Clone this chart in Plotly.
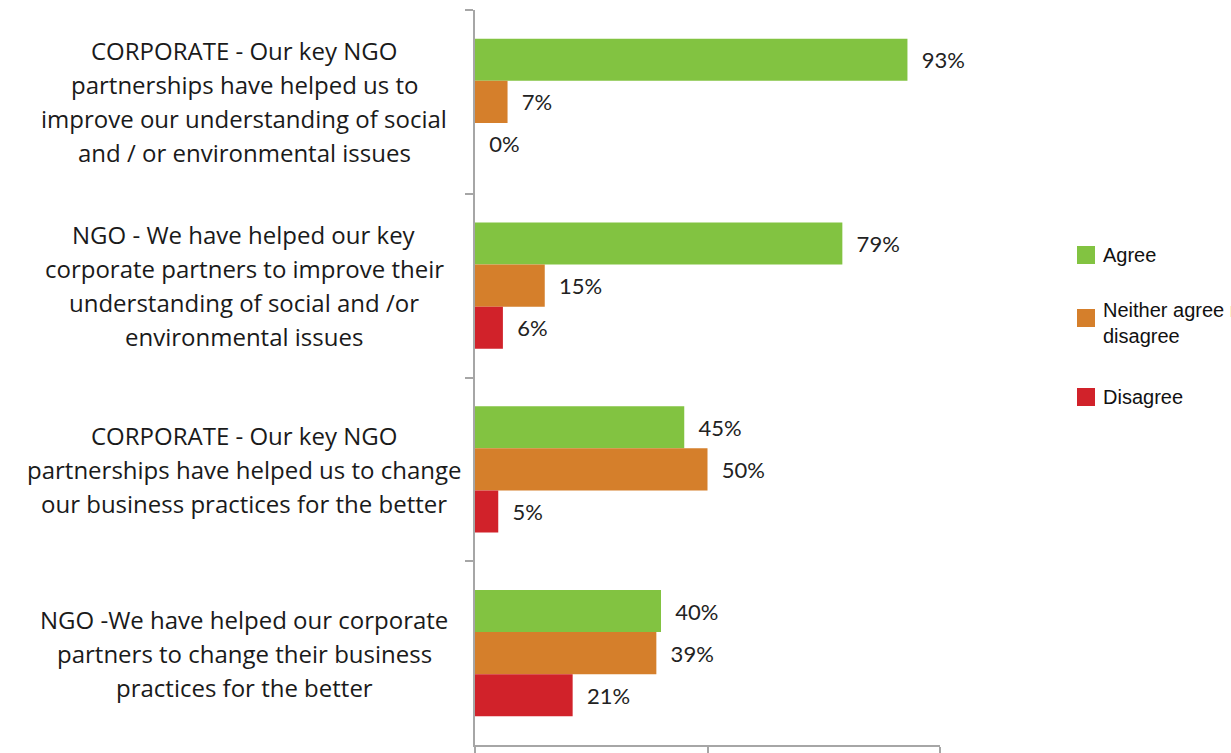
import plotly.graph_objects as go

# Survey statements, one entry per category, as the lines they wrap into
categories = [
    ["CORPORATE - Our key NGO", "partnerships have helped us to",
     "improve our understanding of social", "and / or environmental issues"],
    ["NGO - We have helped our key", "corporate partners to improve their",
     "understanding of social and /or", "environmental issues"],
    ["CORPORATE - Our key NGO", "partnerships have helped us to change",
     "our business practices for the better"],
    ["NGO -We have helped our corporate", "partners to change their business",
     "practices for the better"],
]
series_names = ["Agree", "Neither agree nor<br>disagree", "Disagree"]
agree = [93, 79, 45, 40]
neither = [7, 15, 50, 39]
disagree = [0, 6, 5, 21]
colors = ["#82c341", "#d57f2b", "#d1222a"]

W, H = 1231, 753
L, R, T, B = 475, 291, 10, 8
plot_w = W - L - R
plot_h = H - T - B
LINE_STEP = 34  # pixel spacing between wrapped label lines


def px_to_paper_x(px):
    return (px - L) / plot_w


def px_to_paper_y(py):
    return (H - B - py) / plot_h


keys = [f"c{i}" for i in range(len(categories))]
fig = go.Figure()
for name, vals, col in zip(series_names, [agree, neither, disagree], colors):
    fig.add_trace(go.Bar(
        y=keys, x=vals, orientation="h", name=name,
        marker=dict(color=col, line=dict(width=0)),
        text=[f"\u00a0\u00a0{v}%" for v in vals],
        textposition="outside", cliponaxis=False, constraintext="none",
        textfont=dict(family="Lato", size=22, color="#222222"),
        showlegend=False,
    ))

# Category labels: centred lines to the left of the axis
for k, lines in zip(keys, categories):
    mid = (len(lines) - 1) / 2
    for i, line in enumerate(lines):
        fig.add_annotation(
            x=px_to_paper_x(244), xref="paper", y=k, yref="y",
            xanchor="center", yanchor="middle", align="center",
            text=line, showarrow=False, yshift=(mid - i) * LINE_STEP,
            font=dict(family="Open Sans", size=24, color="#1a1a1a"),
        )

# Legend drawn as swatches with labels on the right
legend_rows = [(255, 255), (318, 323), (397, 397)]
for (sq_y, txt_y), name, col in zip(legend_rows, series_names, colors):
    fig.add_shape(
        type="rect", xref="paper", yref="paper",
        x0=px_to_paper_x(1077), x1=px_to_paper_x(1095),
        y0=px_to_paper_y(sq_y + 9), y1=px_to_paper_y(sq_y - 9),
        fillcolor=col, line=dict(width=0),
    )
    fig.add_annotation(
        x=px_to_paper_x(1101), xref="paper", y=px_to_paper_y(txt_y), yref="paper",
        xanchor="left", yanchor="middle", align="left",
        text=name, showarrow=False,
        font=dict(family="Liberation Sans", size=20, color="#111111"),
    )

fig.update_layout(
    width=W, height=H,
    margin=dict(l=L, r=R, t=T, b=B, autoexpand=False),
    paper_bgcolor="white", plot_bgcolor="white",
    barmode="group", bargap=0.314, bargroupgap=0,
    showlegend=False,
)
fig.update_yaxes(
    type="category", autorange="reversed", automargin=False,
    showline=True, linecolor="#a6a6a6", linewidth=2,
    ticks="outside", tickson="boundaries", ticklen=8, tickcolor="#a6a6a6", tickwidth=2,
    showticklabels=False, showgrid=False, zeroline=False,
)
fig.update_xaxes(
    range=[0, 100], tickvals=[0, 50, 100], automargin=False,
    showline=True, linecolor="#a6a6a6", linewidth=2,
    ticks="outside", ticklen=8, tickcolor="#a6a6a6", tickwidth=2,
    showticklabels=False, showgrid=False, zeroline=False,
)

fig.write_html("out.html")
